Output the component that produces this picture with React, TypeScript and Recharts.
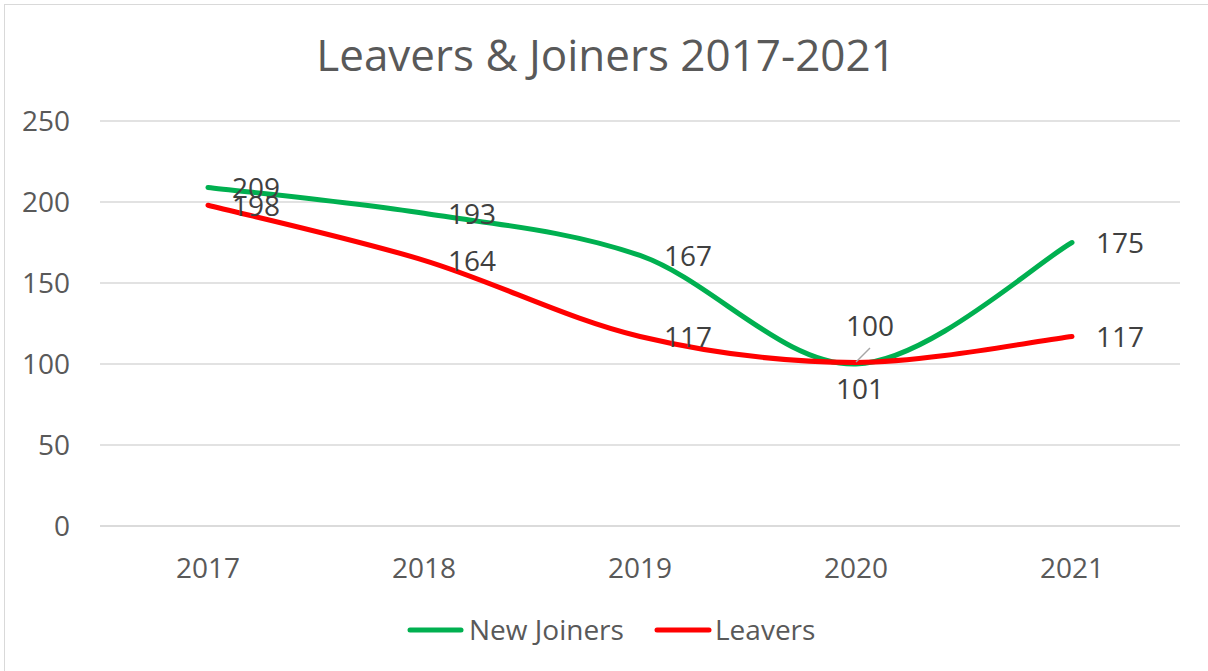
import { LineChart, Line, XAxis, YAxis, CartesianGrid, LabelList } from "recharts"

const years = ["2017", "2018", "2019", "2020", "2021"]
const newJoiners = [209, 193, 167, 100, 175]
const leavers = [198, 164, 117, 101, 117]
const yTicks = [0, 50, 100, 150, 200, 250]

const GREEN = "#00B050"
const RED = "#FF0000"
const FONT = "'Open Sans', sans-serif"

const chartData = years.map((year, i) => ({
  year,
  joiners: newJoiners[i],
  leavers: leavers[i],
}))

// Excel-style smoothed line (Catmull-Rom as cubic beziers)
function excelSmooth(context: any) {
  let pts: [number, number][] = []
  return {
    areaStart() {},
    areaEnd() {},
    lineStart() {
      pts = []
    },
    point(x: number, y: number) {
      pts.push([+x, +y])
    },
    lineEnd() {
      if (!pts.length) return
      context.moveTo(pts[0][0], pts[0][1])
      for (let i = 0; i < pts.length - 1; i++) {
        const p0 = pts[Math.max(i - 1, 0)]
        const p1 = pts[i]
        const p2 = pts[i + 1]
        const p3 = pts[Math.min(i + 2, pts.length - 1)]
        context.bezierCurveTo(
          p1[0] + (p2[0] - p0[0]) / 6,
          p1[1] + (p2[1] - p0[1]) / 6,
          p2[0] - (p3[0] - p1[0]) / 6,
          p2[1] - (p3[1] - p1[1]) / 6,
          p2[0],
          p2[1]
        )
      }
    },
  }
}

const labelStyle = { fontFamily: FONT, fontSize: 28, fill: "#404040" }

function makeLabel(series: "joiners" | "leavers") {
  return (props: any) => {
    const { x, y, value, index } = props
    if (index === 3 && series === "joiners") {
      return (
        <g>
          <line x1={x} y1={y - 2} x2={x + 14} y2={y - 16} stroke="#A6A6A6" strokeWidth={1.5} />
          <text x={x + 14} y={y - 38} dy="0.357em" textAnchor="middle" {...labelStyle}>
            {value}
          </text>
        </g>
      )
    }
    if (index === 3 && series === "leavers") {
      return (
        <text x={x + 4} y={y + 27} dy="0.357em" textAnchor="middle" {...labelStyle}>
          {value}
        </text>
      )
    }
    return (
      <text x={x + 24} y={y + 1} dy="0.357em" textAnchor="start" {...labelStyle}>
        {value}
      </text>
    )
  }
}

const tickStyle = { fill: "#595959", fontSize: 28, fontFamily: FONT }

export default function App() {
  return (
    <div style={{ position: "absolute", left: 0, top: 0, width: 1208, height: 671, overflow: "hidden", background: "#fff" }}>
      <div
        style={{
          position: "absolute",
          left: 4,
          top: 4,
          width: 1220,
          height: 680,
          border: "1.5px solid #D9D9D9",
        }}
      />
      <div style={{ position: "absolute", left: 0, top: 0 }}>
        <LineChart width={1208} height={671} data={chartData} margin={{ top: 121, right: 28, bottom: 85, left: 0 }}>
          <CartesianGrid vertical={false} stroke="#D9D9D9" strokeWidth={1.5} />
          <XAxis
            dataKey="year"
            height={60}
            padding={{ left: 108, right: 108 }}
            axisLine={{ stroke: "#D9D9D9", strokeWidth: 1.5 }}
            tickLine={false}
            tickSize={0}
            tickMargin={32}
            tick={tickStyle}
          />
          <YAxis
            width={100}
            domain={[0, 250]}
            ticks={yTicks}
            axisLine={false}
            tickLine={false}
            tickSize={0}
            tickMargin={30}
            tick={tickStyle}
          />
          <Line
            dataKey="joiners"
            name="New Joiners"
            type={excelSmooth as any}
            stroke={GREEN}
            strokeWidth={5}
            strokeLinecap="round"
            dot={false}
            activeDot={false}
            isAnimationActive={false}
          >
            <LabelList dataKey="joiners" content={makeLabel("joiners")} />
          </Line>
          <Line
            dataKey="leavers"
            name="Leavers"
            type={excelSmooth as any}
            stroke={RED}
            strokeWidth={5}
            strokeLinecap="round"
            dot={false}
            activeDot={false}
            isAnimationActive={false}
          >
            <LabelList dataKey="leavers" content={makeLabel("leavers")} />
          </Line>
        </LineChart>
      </div>
      <svg width={1208} height={671} style={{ position: "absolute", left: 0, top: 0, pointerEvents: "none" }}>
        <text x={606} y={71} textAnchor="middle" fontFamily={FONT} fontSize={44} fill="#595959">
          Leavers &amp; Joiners 2017-2021
        </text>
        <line x1={410} y1={630} x2={461} y2={630} stroke={GREEN} strokeWidth={5} strokeLinecap="round" />
        <text x={469} y={640} fontFamily={FONT} fontSize={28} fill="#595959">
          New Joiners
        </text>
        <line x1={657} y1={630} x2={709} y2={630} stroke={RED} strokeWidth={5} strokeLinecap="round" />
        <text x={715} y={640} fontFamily={FONT} fontSize={28} fill="#595959">
          Leavers
        </text>
      </svg>
    </div>
  )
}
